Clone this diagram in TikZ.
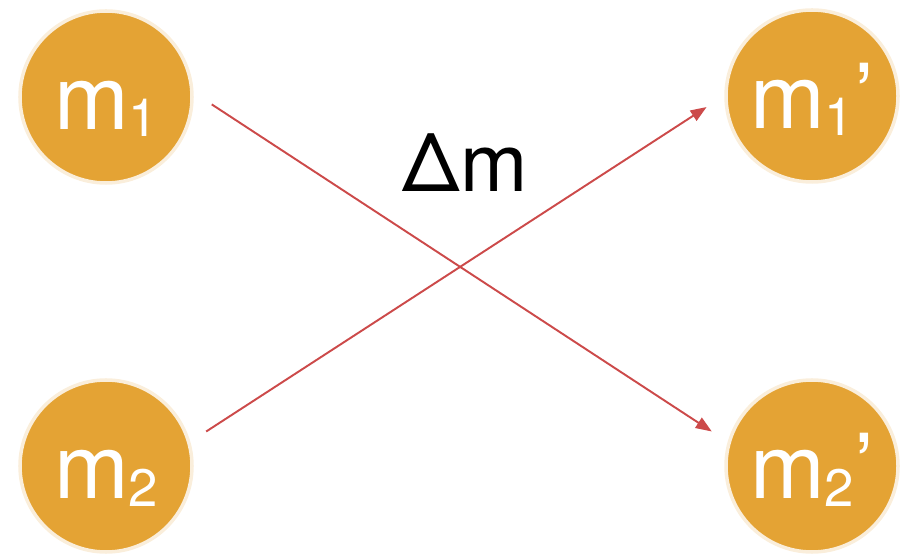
\documentclass[tikz,border=0pt]{standalone}
\usepackage{fontspec}
\setmainfont{TeX Gyre Heros}
\usetikzlibrary{arrows.meta}

\definecolor{massfill}{HTML}{E4A334}
\definecolor{massglow}{HTML}{FAEEDB}
\definecolor{flowred}{HTML}{CC4A4A}

\newcommand{\msub}[1]{m\raisebox{-0.14cm}{\fontsize{30}{30}\selectfont #1}}

\tikzset{
  mass/.style={circle, fill=massfill, draw=massglow, line width=2pt,
    minimum size=3.44cm, inner sep=0pt, outer sep=0.4cm,
    text=white, font=\fontsize{51}{51}\selectfont,
    text height=1.5cm, text depth=0.18cm},
  flow/.style={draw=flowred, line width=1.1pt,
    -{Triangle[length=0.32cm, width=0.24cm]}}
}

\begin{document}
\begin{tikzpicture}
  \useasboundingbox (0,0) rectangle (18.08,11.12);

  \node[mass] (m1)  at (2.12,9.18)  {\msub{1}};
  \node[mass] (m2)  at (2.12,1.80)  {\msub{2}};
  \node[mass] (m1p) at (16.24,9.20) {\msub{1}’};
  \node[mass] (m2p) at (16.24,1.80) {\msub{2}’};

  \draw[flow] (m1.-4) -- (m2p.161);
  \draw[flow] (m2.19) -- (m1p.186);

  \node[anchor=base, font=\fontsize{46}{46}\selectfont] (dm) at (9.30,7.28) {Δm};
\end{tikzpicture}
\end{document}
